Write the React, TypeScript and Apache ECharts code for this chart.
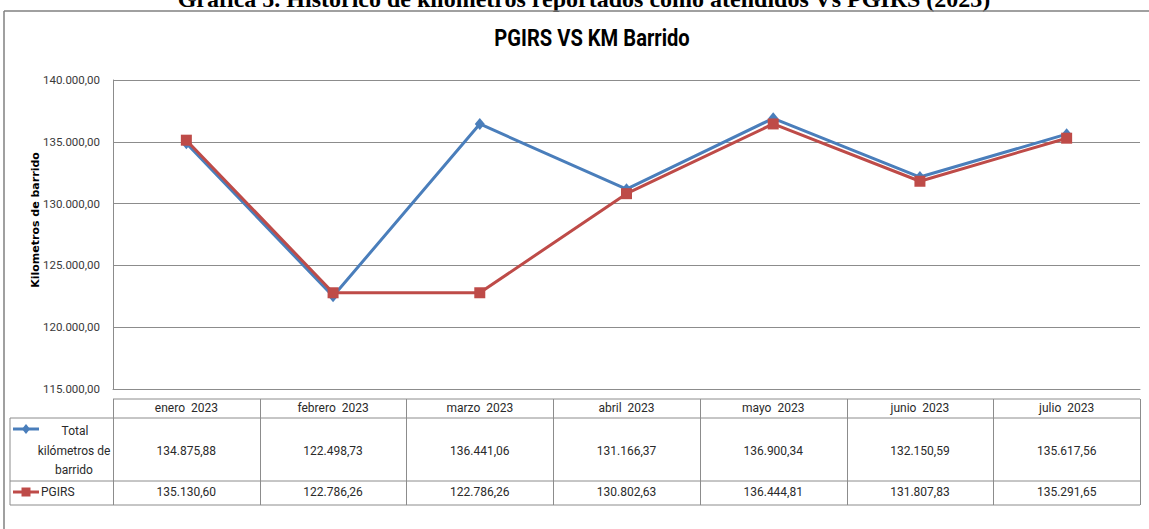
import React, { useEffect, useRef } from "react";
import * as echarts from "echarts";

const months = ["enero  2023", "febrero  2023", "marzo  2023", "abril  2023", "mayo  2023", "junio  2023", "julio  2023"];
const totalKm = [134875.88, 122498.73, 136441.06, 131166.37, 136900.34, 132150.59, 135617.56];
const pgirs = [135130.6, 122786.26, 122786.26, 130802.63, 136444.81, 131807.83, 135291.65];
const yTicks = { min: 115000, max: 140000, interval: 5000 };
const caption = "Gráfica 5. Histórico de kilómetros reportados como atendidos Vs PGIRS (2023)";
const chartTitle = "PGIRS VS KM Barrido";
const yName = "Kilometros de barrido";
const seriesNames = ["Total kilómetros de barrido", "PGIRS"];

const W = 1149;
const H = 529;
const GL = 113;
const GR = 9;
const GT = 80;
const GB = 140;
const BLUE = "#4A7EBB";
const RED = "#BE4B48";
const GRID = "#8C8C8C";
const TXT = "#2a2a2a";
const FONT = "Roboto, 'Liberation Sans', sans-serif";
const FS = 12;

function fmt(v: number): string {
  const [i, d] = v.toFixed(2).split(".");
  return i.replace(/\B(?=(\d{3})+(?!\d))/g, ".") + "," + d;
}

export default function App() {
  const ref = useRef<HTMLDivElement>(null);
  useEffect(() => {
    if (!ref.current) return;
    const chart = echarts.init(ref.current, null, { renderer: "svg" });
    const plotW = W - GL - GR;
    const colW = plotW / months.length;
    const xR = W - GR;
    const tTop = 399;
    const tHead = 418;
    const tR1 = 481;
    const tR2 = 505;
    const tLeft = 10;
    const lineStyle = { stroke: GRID, lineWidth: 1 };
    const tableLines: any[] = [
      { type: "line", shape: { x1: GL, y1: tTop, x2: xR, y2: tTop }, style: lineStyle },
      { type: "line", shape: { x1: tLeft, y1: tHead, x2: xR, y2: tHead }, style: lineStyle },
      { type: "line", shape: { x1: tLeft, y1: tR1, x2: xR, y2: tR1 }, style: lineStyle },
      { type: "line", shape: { x1: tLeft, y1: tR2, x2: xR, y2: tR2 }, style: lineStyle },
      { type: "line", shape: { x1: tLeft, y1: tHead, x2: tLeft, y2: tR2 }, style: lineStyle },
    ];
    for (let i = 0; i <= months.length; i++) {
      const x = Math.round(GL + i * colW) + 0.5;
      tableLines.push({ type: "line", shape: { x1: x, y1: tTop, x2: x, y2: tR2 }, style: lineStyle });
    }
    const legendText = (text: string, x: number, y: number, align: string) => ({
      type: "text",
      x,
      y,
      style: { text, fill: TXT, font: `${FS}px ${FONT}`, textAlign: align, textVerticalAlign: "middle" },
    });
    const labelsAxis = (formatter: (v: string, i: number) => string, margin: number) => ({
      type: "category",
      data: months,
      position: "bottom",
      boundaryGap: true,
      axisLine: { show: false },
      axisTick: { show: false },
      splitLine: { show: false },
      axisLabel: {
        interval: 0,
        margin,
        verticalAlign: "middle",
        color: TXT,
        fontFamily: FONT,
        fontSize: FS,
        formatter,
      },
    });

    chart.setOption({
      animation: false,
      backgroundColor: "#ffffff",
      grid: { left: GL, right: GR, top: GT, bottom: GB, containLabel: false },
      xAxis: [
        {
          type: "category",
          data: months,
          boundaryGap: true,
          axisLine: { show: true, lineStyle: { color: GRID, width: 1 } },
          axisTick: { show: false },
          axisLabel: {
            interval: 0,
            margin: 19,
            verticalAlign: "middle",
            color: TXT,
            fontFamily: FONT,
            fontSize: FS,
          },
        },
        labelsAxis((_v, i) => fmt(totalKm[i]), 62),
        labelsAxis((_v, i) => fmt(pgirs[i]), 103),
      ],
      yAxis: {
        type: "value",
        min: yTicks.min,
        max: yTicks.max,
        interval: yTicks.interval,
        axisLine: { show: true, lineStyle: { color: GRID, width: 1 } },
        axisTick: { show: false },
        splitLine: { show: true, lineStyle: { color: GRID, width: 1 } },
        axisLabel: {
          margin: 13,
          color: "#3a3a3a",
          fontFamily: FONT,
          fontSize: 11.5,
          formatter: (v: number) => fmt(v),
        },
      },
      series: [
        {
          name: seriesNames[0],
          type: "line",
          xAxisIndex: 0,
          data: totalKm,
          symbol: "diamond",
          symbolSize: [10, 12],
          lineStyle: { color: BLUE, width: 3 },
          itemStyle: { color: BLUE },
          z: 2,
        },
        {
          name: seriesNames[1],
          type: "line",
          xAxisIndex: 0,
          data: pgirs,
          symbol: "rect",
          symbolSize: 11,
          lineStyle: { color: RED, width: 3 },
          itemStyle: { color: RED },
          z: 3,
        },
      ],
      graphic: [
        {
          type: "text",
          x: 584,
          y: 11,
          style: {
            text: caption,
            fill: "#000",
            font: "bold 24px 'Liberation Serif', 'Times New Roman', serif",
            textAlign: "center",
            textVerticalAlign: "bottom",
          },
        },
        { type: "line", shape: { x1: 4, y1: 11, x2: W, y2: 11 }, style: { stroke: "#808080", lineWidth: 1.5 } },
        { type: "line", shape: { x1: 4, y1: 11, x2: 4, y2: H }, style: { stroke: "#808080", lineWidth: 1.5 } },
        {
          type: "text",
          x: 592,
          y: 37,
          scaleX: 0.84,
          style: {
            text: chartTitle,
            fill: "#000",
            font: `bold 24px ${FONT}`,
            textAlign: "center",
            textVerticalAlign: "middle",
          },
        },
        {
          type: "text",
          x: 35,
          y: 220,
          rotation: Math.PI / 2,
          style: {
            text: yName,
            fill: "#000",
            font: "bold 11px 'DejaVu Sans', Verdana, sans-serif",
            textAlign: "center",
            textVerticalAlign: "middle",
          },
        },
        ...tableLines,
        { type: "line", shape: { x1: 13, y1: 429, x2: 39, y2: 429 }, style: { stroke: BLUE, lineWidth: 3 } },
        { type: "polygon", shape: { points: [[26, 424], [30, 429], [26, 434], [22, 429]] }, style: { fill: BLUE } },
        { type: "line", shape: { x1: 13, y1: 492, x2: 39, y2: 492 }, style: { stroke: RED, lineWidth: 3 } },
        { type: "rect", shape: { x: 21.5, y: 487.5, width: 9, height: 9 }, style: { fill: RED } },
        legendText("Total", 75, 431, "center"),
        legendText("kilómetros de", 74, 451, "center"),
        legendText("barrido", 74, 470, "center"),
        legendText(seriesNames[1], 41, 492, "left"),
      ],
    });
    return () => chart.dispose();
  }, []);
  return <div ref={ref} style={{ position: "fixed", left: 0, top: 0, width: W, height: H }} />;
}
